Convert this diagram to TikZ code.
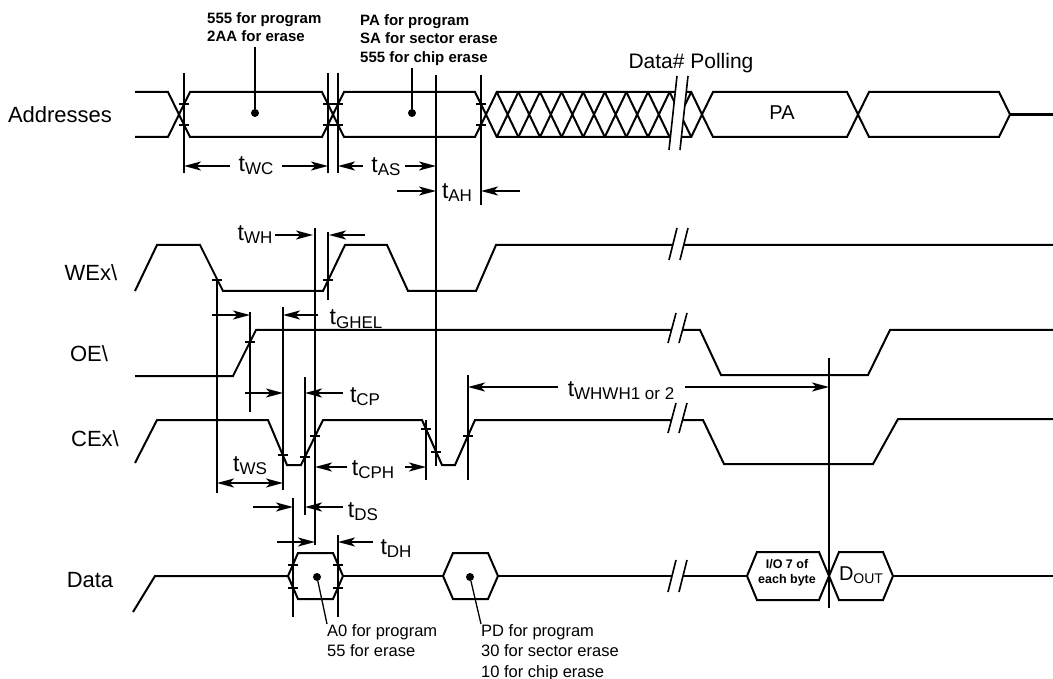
\documentclass[tikz,border=0pt]{standalone}
\usepackage{fontspec}
\setmainfont{Liberation Sans}
\usetikzlibrary{arrows.meta}
\tikzset{
	sig/.style={line width=2pt},
	guide/.style={line width=1.3pt},
	tip/.tip={Stealth[length=17pt,width=9pt,inset=4.5pt]},
	dim/.style={line width=1.9pt,-tip},
	lbl/.style={font=\fontsize{22}{22}\selectfont,inner sep=0,anchor=base},
	tlbl/.style={font=\fontsize{23}{23}\selectfont,inner sep=0,anchor=base},
	note/.style={font=\bfseries\fontsize{15}{18.5}\selectfont,align=left,inner sep=0,anchor=north west},
	bnote/.style={font=\fontsize{16.5}{20.5}\selectfont,align=left,inner sep=0,anchor=north west},
	dot/.style={circle,fill,inner sep=0,minimum size=8pt}
}
\newcommand{\tsub}[1]{t\raisebox{-3pt}{\fontsize{17}{17}\selectfont #1}}
% bus value: left cross, right cross, top, bottom, slope width
\newcommand{\hexbus}[5]{\draw[sig] (#1,{(#3+#4)/2})--(#1+#5,#3)--(#2-#5,#3)--(#2,{(#3+#4)/2})--(#2-#5,#4)--(#1+#5,#4)--cycle;}
\newcommand{\tickat}[2]{\draw[guide] (#1-5,#2)--(#1+5,#2);}
\newcommand{\sigbreak}[3]{%
	\fill[white] (#1-10,#2+#3)--(#1-2,#2-#3)--(#1+9,#2-#3)--(#1+1,#2+#3)--cycle;
	\draw[guide,line width=1.6pt] (#1-10,#2+#3)--(#1-2,#2-#3) (#1+1,#2+#3)--(#1+9,#2-#3);}

\begin{document}
\begin{tikzpicture}[x=1pt,y=-1pt]
	\useasboundingbox (0,0) rectangle (1053,679);
	
	\node[lbl] (adr) at (60,123) {Addresses};
	\node[lbl] (we) at (91,280) {WEx\textbackslash};
	\node[lbl] (oe) at (89,361) {OE\textbackslash};
	\node[lbl] (ce) at (95,446) {CEx\textbackslash};
	\node[lbl] (dat) at (90,587) {Data};
	
	% addresses
	\draw[sig] (135,92)--(168,92)--(179,114.5)--(168,137)--(135,137);
	\hexbus{179}{333}{92}{137}{11}
	\hexbus{333}{486}{92}{137}{11}
	\hexbus{486}{702}{92}{137}{10.8}
	\foreach \k in {1,...,9}{
		\pgfmathsetmacro\cx{486+21.6*\k}
		\draw[sig] (\cx-10.8,92)--(\cx+10.8,137) (\cx-10.8,137)--(\cx+10.8,92);
	}
	\hexbus{702}{858}{92}{137}{11}
	\hexbus{858}{1010}{92}{137}{11}
	\draw[sig,line width=2.6pt] (1010,114.5)--(1053,114.5);
	\node[font=\fontsize{20}{20}\selectfont,inner sep=0,anchor=base] (pa) at (782,120) {PA};
	\node[font=\fontsize{21}{21}\selectfont,inner sep=0,anchor=base] (poll) at (691,69) {Data\# Polling};
	
	% control lines
	\draw[sig] (135,291)--(157,245)--(200,245)--(223,291)--(323,291)--(345,245)--(387,245)
		--(408,291)--(476,291)--(496,245)--(1053,245);
	\draw[sig] (135,376)--(233,376)--(256,330)--(700,330)--(721,375)--(868,375)--(890,330)--(1053,330);
	\draw[sig] (135,463)--(157,420)--(268,420)--(287,465)--(301,465)--(323,420)--(422,420)
		--(442,465)--(455,465)--(475,420)--(703,420)--(724,464)--(873,464)--(898,419)--(1053,419);
	
	% data
	\draw[sig] (133,612)--(155,576)--(288,576);
	\hexbus{288}{343}{553}{599}{10}
	\draw[sig] (343,576)--(443,576);
	\hexbus{443}{498}{553}{599}{10}
	\draw[sig] (498,576)--(747,576);
	\hexbus{747}{829}{552}{600}{10}
	\hexbus{829}{893}{552}{600}{10}
	\draw[sig] (893,576)--(1053,576);
	\node[font=\bfseries\fontsize{12.5}{15}\selectfont,align=center,inner sep=0] (io7) at (787,573) {I/O 7 of\\each byte};
	\node[font=\fontsize{20}{20}\selectfont,inner sep=0,anchor=base] (dout) at (861,580) {D\raisebox{-3pt}{\fontsize{14}{14}\selectfont OUT}};
	
	% breaks
	\sigbreak{679}{113}{37}
	\sigbreak{679}{244}{16}
	\sigbreak{678}{328}{15}
	\sigbreak{678}{418}{15}
	\sigbreak{678}{576}{16}
	
	% reference lines
	\draw[guide] (184,73)--(184,173) (328,73)--(328,173) (338,73)--(338,173);
	\draw[guide] (436,75)--(436,466) (481,75)--(481,205);
	\draw[guide] (217,280)--(217,493) (250,312)--(250,412) (283,307)--(283,490);
	\draw[guide] (305,377)--(305,515) (315,228)--(315,545) (328,232)--(328,300);
	\draw[guide] (426,420)--(426,480) (468,375)--(468,480);
	\draw[guide] (293,498)--(293,617) (338,535)--(338,617) (829,358)--(829,608);
	
	\foreach \x in {184,328,338,481}{\tickat{\x}{104}\tickat{\x}{125}}
	\tickat{217}{280}\tickat{328}{280}\tickat{250}{342}
	\tickat{283}{455}\tickat{305}{457}\tickat{315}{436}
	\tickat{426}{429}\tickat{436}{452}\tickat{468}{436}
	\foreach \x in {293,338}{\tickat{\x}{565}\tickat{\x}{588}}
	
	% value notes
	\node[dot] (d1) at (255,113) {};
	\node[dot] (d2) at (412,113) {};
	\node[dot] (d3) at (317,577) {};
	\node[dot] (d4) at (470,577) {};
	\node[note] (n1) at (207,12) {555 for program\\2AA for erase};
	\node[note] (n2) at (360,14) {PA for program\\SA for sector erase\\555 for chip erase};
	\node[bnote] (n3) at (327,624) {A0 for program\\55 for erase};
	\node[bnote] (n4) at (481,624) {PD for program\\30 for sector erase\\10 for chip erase};
	\draw[guide] (d1) -- (255,47);
	\draw[guide] (d2) -- (412,68);
	\draw[guide] (d3) -- (n3.north west);
	\draw[guide] (d4) -- (n4.north west);
	
	% timing parameters
	\node[tlbl] (twc) at (256,172) {\tsub{WC}};
	\draw[dim] (230,166)--(184,166); \draw[dim] (282,166)--(328,166);
	\node[tlbl] (tas) at (386,173) {\tsub{AS}};
	\draw[dim] (363,166)--(338,166); \draw[dim] (405,166)--(436,166);
	\node[tlbl] (tah) at (457,199) {\tsub{AH}};
	\draw[dim] (397,191)--(436,191); \draw[dim] (520,191)--(481,191);
	\node[tlbl] (twh) at (255,241) {\tsub{WH}};
	\draw[dim] (275,235)--(313,235); \draw[dim] (365,235)--(329,235);
	\node[tlbl] (tghel) at (356,325) {\tsub{GHEL}};
	\draw[dim] (212,315)--(250,315); \draw[dim] (318,315)--(283,315);
	\node[tlbl] (tcp) at (365,402) {\tsub{CP}};
	\draw[dim] (245,393)--(283,393); \draw[dim] (343,393)--(305,393);
	\node[tlbl] (tws) at (250,471) {\tsub{WS}};
	\draw[dim,tip-tip] (217,483)--(283,483);
	\node[tlbl] (tcph) at (373,475) {\tsub{CPH}};
	\draw[dim] (347,467)--(315,467); \draw[dim] (405,467)--(426,467);
	\node[tlbl] (tds) at (363,517) {\tsub{DS}};
	\draw[dim] (253,507)--(293,507); \draw[dim] (343,507)--(305,507);
	\node[tlbl] (tdh) at (396,554) {\tsub{DH}};
	\draw[dim] (277,542)--(315,542); \draw[dim] (373,542)--(338,542);
	\node[tlbl] (twhwh) at (621,396) {\tsub{WHWH1 or 2}};
	\draw[dim] (558,387)--(468,387); \draw[dim] (685,387)--(829,387);
\end{tikzpicture}
\end{document}
